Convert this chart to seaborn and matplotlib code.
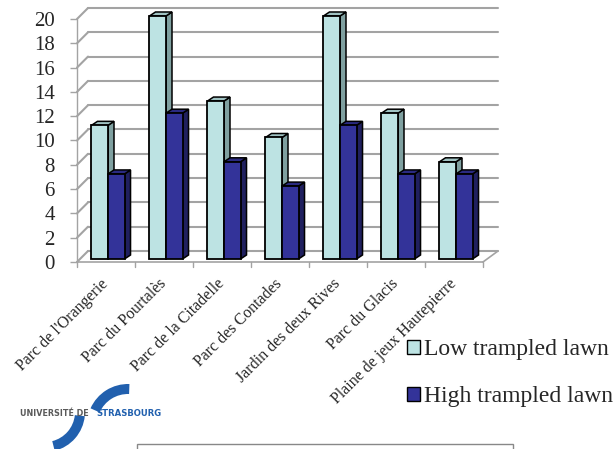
import numpy as np
import pandas as pd
import matplotlib
matplotlib.use("Agg")
import matplotlib.pyplot as plt
import matplotlib.transforms as mtransforms
import seaborn as sns
from matplotlib.patches import Polygon, Patch, Wedge, Rectangle

parks = ["Parc de l'Orangerie", "Parc du Pourtalès", "Parc de la Citadelle",
         "Parc des Contades", "Jardin des deux Rives", "Parc du Glacis",
         "Plaine de jeux Hautepierre"]
low_vals = [11, 20, 13, 10, 20, 12, 8]
high_vals = [7, 12, 8, 6, 11, 7, 7]
series = ["Low trampled lawn", "High trampled lawn"]
y_ticks = list(range(0, 21, 2))

front_cols = ["#BDE3E3", "#333399"]
side_cols = ["#7FA0A0", "#20205F"]
top_cols = ["#9FC2C2", "#2A2A80"]

df = pd.DataFrame({
    "park": parks * 2,
    "value": low_vals + high_vals,
    "type": [series[0]] * len(parks) + [series[1]] * len(parks),
})

sns.set_theme(style="white")
plt.rcParams["font.family"] = ["Liberation Serif", "DejaVu Serif"]

W, H = 614, 449
fig = plt.figure(figsize=(W / 100, H / 100), dpi=100)

x0_px, x1_px = 77, 483
y0_px, y20_px = 262, 19
ax = fig.add_axes([x0_px / W, 1 - y0_px / H, (x1_px - x0_px) / W, (y0_px - y20_px) / H])
ax.set_facecolor("none")

sns.barplot(data=df, x="park", y="value", hue="type", palette=front_cols,
            width=0.57, edgecolor="black", linewidth=1.3, ax=ax, legend=False,
            saturation=1)

xmin, xmax = -0.5, 6.5
ax.set_xlim(xmin, xmax)
ax.set_ylim(0, 20)
px_x = (xmax - xmin) / (x1_px - x0_px)   # data per px in x
px_y = 20 / (y0_px - y20_px)             # data per px in y

# bars sit slightly inside the 3D box
shift = ax.transData + mtransforms.ScaledTranslation(2 / 100, 3 / 100, fig.dpi_scale_trans)

# 3D faces of bars
bdx, bdy = 6 * px_x, 4 * px_y
for k, cont in enumerate(ax.containers):
    for p in cont.patches:
        p.set_zorder(2 + 2 * k)
        p.set_transform(shift)
        p.set_clip_on(False)
        x, w, h = p.get_x(), p.get_width(), p.get_height()
        side = Polygon([(x + w, 0), (x + w + bdx, bdy), (x + w + bdx, h + bdy), (x + w, h)],
                       closed=True, facecolor=side_cols[k], edgecolor="black",
                       linewidth=1.1, zorder=1.5 + 2 * k, clip_on=False, transform=shift)
        top = Polygon([(x, h), (x + bdx, h + bdy), (x + w + bdx, h + bdy), (x + w, h)],
                      closed=True, facecolor=top_cols[k], edgecolor="black",
                      linewidth=1.1, zorder=1.5 + 2 * k, clip_on=False, transform=shift)
        ax.add_patch(side)
        ax.add_patch(top)

# walls and grid
gcol = "#A3A3A3"
glw = 1.5
ldx, rdx, wdy = 11 * px_x, 15 * px_x, 11 * px_y
for v in y_ticks:
    ax.plot([xmin, xmin + ldx], [v, v + wdy], color=gcol, lw=glw, zorder=0.5, clip_on=False)
    ax.plot([xmin + ldx, xmax + rdx], [v + wdy, v + wdy], color=gcol, lw=glw, zorder=0.5,
            clip_on=False)
ax.plot([xmin, xmin], [0, 20], color=gcol, lw=1.0, zorder=0.5, clip_on=False)
ax.plot([xmin, xmax], [0, 0], color=gcol, lw=1.2, zorder=0.5, clip_on=False)
ax.plot([xmax, xmax + rdx], [0, wdy], color=gcol, lw=1.2, zorder=0.5, clip_on=False)
for i in range(len(parks) + 1):
    xb = xmin + i
    ax.plot([xb, xb], [0, -5 * px_y], color=gcol, lw=1.0, clip_on=False)

for s in ax.spines.values():
    s.set_visible(False)
ax.set_yticks(y_ticks)
ax.set_yticklabels([str(v) for v in y_ticks], fontsize=15)
ax.tick_params(axis="y", length=5, width=1.0, color=gcol, pad=11, left=True)
ax.set_xticks(range(len(parks)))
ax.set_xticklabels(parks, rotation=45, ha="right", va="center", rotation_mode="anchor",
                   fontsize=11.5)
ax.tick_params(axis="x", length=0, pad=14)
ax.set_xlabel("")
ax.set_ylabel("")

# legend
handles = [Patch(facecolor=front_cols[i], edgecolor="black", linewidth=1.0) for i in range(2)]
fig.legend(handles, series, loc="upper left", bbox_to_anchor=(407 / W, 1 - 339 / H),
           frameon=False, fontsize=17, handlelength=0.55, handleheight=0.55,
           handletextpad=0.15, labelspacing=1.1, borderpad=0, borderaxespad=0)

# overlay: logo and box
ov = fig.add_axes([0, 0, 1, 1], zorder=-1)
ov.set_xlim(0, W)
ov.set_ylim(0, H)
ov.axis("off")
blue = "#2160AE"
ov.add_patch(Wedge((128, H - 425), 41, 88, 156, width=10, facecolor=blue, edgecolor="none"))
ov.add_patch(Wedge((45, H - 412), 40, -76, -6, width=10, facecolor=blue, edgecolor="none"))
ov.text(20, H - 414, "UNIVERSITÉ DE", fontsize=5.8, fontweight="bold", color="#5A5A5A",
        family="DejaVu Sans", va="center", ha="left")
ov.text(96, H - 414, "STRASBOURG", fontsize=6.1, fontweight="bold", color=blue,
        family="DejaVu Sans", va="center", ha="left")
ov.add_patch(Rectangle((137, -5), 376, H - 444 + 5, facecolor="white", edgecolor="#888888",
                       linewidth=1.0))

fig.savefig("out.png", dpi=100)
